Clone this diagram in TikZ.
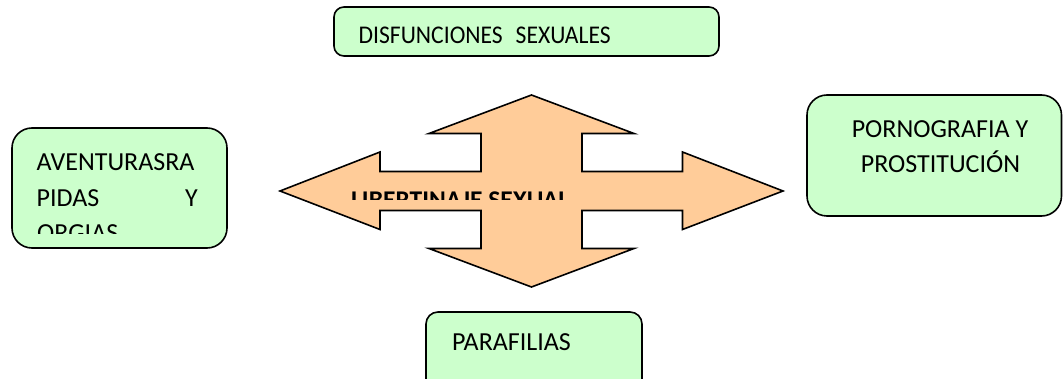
\documentclass[tikz,border=0pt]{standalone}
\usepackage{fontspec}
\setmainfont{Carlito}
\begin{document}
\begin{tikzpicture}[x=1pt,y=-1pt,
  greenbox/.style={draw=black,line width=1.6pt,fill=boxgreen},
  lbl/.style={inner sep=0pt,anchor=base west,font=\fontsize{26}{35}\selectfont},
  arrowshape/.style={draw=black,line width=1.6pt,fill=arrowpeach,line join=miter}]
\definecolor{boxgreen}{HTML}{CCFFCC}
\definecolor{arrowpeach}{HTML}{FFCC99}
\useasboundingbox (0,0) rectangle (1063,379);
\begin{scope}
\clip (0,0) rectangle (1063,379);
% top box
\draw[greenbox,rounded corners=10pt] (334,7) rectangle (719,56);
\node[lbl,font=\fontsize{23.6}{30}\selectfont] (top) at (358.5,43.3) {\scalebox{1}[1.08]{DISFUNCIONES\hspace{13pt}SEXUALES}};
% left box
\draw[greenbox,rounded corners=20pt] (12,128) rectangle (227,248);
\begin{scope}
\clip (12,128) rectangle (227,234);
\node[lbl] (l1) at (36.5,171) {AVENTURASRA};
\node[lbl] (l2) at (36.5,206.5) {PIDAS};
\node[lbl,anchor=base east] (l2y) at (198,206.5) {Y};
\node[lbl] (l3) at (37,242) {ORGIAS};
\end{scope}
% right box
\draw[greenbox,rounded corners=20pt] (807,95) rectangle (1061.5,216);
\node[lbl,anchor=base] (r1) at (940,138) {PORNOGRAFIA Y};
\node[lbl,anchor=base] (r2) at (940.5,173) {PROSTITUCIÓN};
% bottom box
\draw[greenbox,rounded corners=12pt] (426,312) rectangle (642,420);
\node[lbl] (bot) at (452,350) {PARAFILIAS};
% arrow
\draw[arrowshape] (531.5,95) -- (634,133.5) -- (582,133.5) -- (582,171.5)
  -- (682.5,171.5) -- (682.5,152) -- (783,191) -- (682.5,229.5) -- (682.5,210.5)
  -- (582,210.5) -- (582,248.5) -- (634,248.5) -- (531.5,287) -- (429,248.5)
  -- (481,248.5) -- (481,210.5) -- (380,210.5) -- (380,229.5) -- (280,191)
  -- (380,152) -- (380,171.5) -- (481,171.5) -- (481,133.5) -- (429,133.5) -- cycle;
\begin{scope}
\clip (340,180) rectangle (590,200);
\node[lbl,font=\fontsize{25.5}{35}\selectfont\bfseries] (mid) at (351,208.5) {LIBERTINAJE SEXUAL};
\end{scope}
\end{scope}
\end{tikzpicture}
\end{document}
